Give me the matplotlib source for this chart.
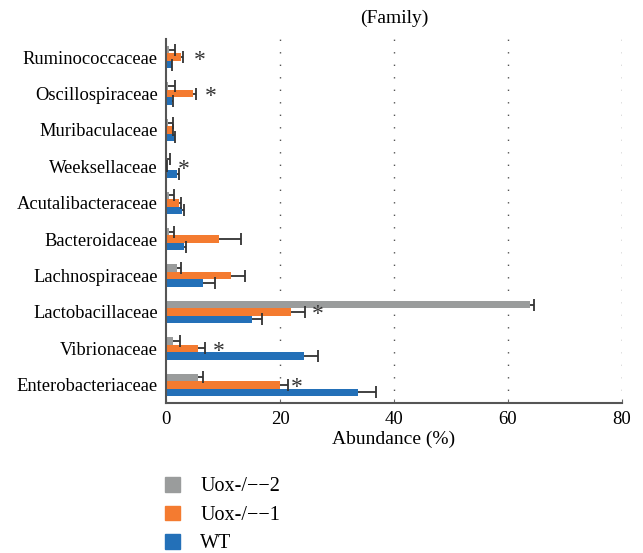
import matplotlib
matplotlib.use("Agg")
import matplotlib.pyplot as plt
from matplotlib.patches import Patch
import numpy as np

plt.rcParams["font.family"] = ["Liberation Serif", "DejaVu Serif"]

families = ["Ruminococcaceae", "Oscillospiraceae", "Muribaculaceae", "Weeksellaceae",
            "Acutalibacteraceae", "Bacteroidaceae", "Lachnospiraceae", "Lactobacillaceae",
            "Vibrionaceae", "Enterobacteriaceae"]

uox2 = [0.5, 0.4, 0.4, 0.2, 0.5, 0.5, 1.9, 63.8, 1.2, 5.6]
uox2_err = [1.0, 1.1, 0.8, 0.5, 0.9, 0.9, 0.8, 0.7, 1.2, 0.9]
uox1 = [2.6, 4.7, 1.2, 0.1, 2.2, 9.3, 11.4, 22.0, 5.6, 20.0]
uox1_err = [0.4, 0.5, 0.1, 0.0, 0.5, 3.8, 2.4, 2.4, 1.3, 1.4]
wt = [1.0, 1.0, 1.5, 2.0, 2.8, 3.1, 6.5, 15.1, 24.2, 33.6]
wt_err = [0.1, 0.2, 0.1, 0.2, 0.3, 0.4, 2.1, 1.7, 2.4, 3.2]

# significance marks: x value where the asterisk sits
stars = {"Ruminococcaceae": 6.0, "Oscillospiraceae": 7.8, "Weeksellaceae": 3.2,
         "Lactobacillaceae": 26.6, "Vibrionaceae": 9.3, "Enterobacteriaceae": 23.0}

c_gray = "#9a9c9c"
c_orange = "#f47b30"
c_blue = "#2370b8"

fig = plt.figure(figsize=(6.43, 5.53), dpi=100)
ax = fig.add_axes([166 / 643, 1 - 403 / 553, (622 - 166) / 643, (403 - 39) / 553])

y = np.arange(len(families))
h = 0.205
for off, vals, errs, col in [(-h, uox2, uox2_err, c_gray),
                             (0, uox1, uox1_err, c_orange),
                             (h, wt, wt_err, c_blue)]:
    vals = np.array(vals)
    tops = vals + np.array(errs)
    ax.barh(y + off, vals, h, color=col, zorder=2)
    ax.hlines(y + off, vals, tops, color="#333333", linewidth=1.3, zorder=3)
    ax.plot(tops, y + off, linestyle="none", marker="|", markersize=9,
            markeredgewidth=1.3, color="#333333", zorder=3)

for name, xv in stars.items():
    i = families.index(name)
    ax.text(xv, i + 0.08, "*", fontsize=17, ha="center", va="center", color="#333333")

ax.set_ylim(len(families) - 0.5, -0.5)
ax.set_xlim(0, 80)
ax.set_yticks(y)
ax.set_yticklabels(families, fontsize=13.3)
ax.set_xticks([0, 20, 40, 60, 80])
ax.tick_params(axis="x", direction="in", length=3, labelsize=13.5, pad=6, color="#666666")
ax.tick_params(axis="y", length=0, pad=6)
for xv in [20, 40, 60, 80]:
    ax.axvline(xv, color="#555555", linestyle=(0, (1, 8)), linewidth=1, zorder=0)
for s in ["top", "right"]:
    ax.spines[s].set_visible(False)
for s in ["left", "bottom"]:
    ax.spines[s].set_color("#555555")
    ax.spines[s].set_linewidth(1.5)

ax.set_xlabel("Abundance (%)", fontsize=14, labelpad=2)
fig.text(394 / 643, 1 - 18 / 553, "(Family)", ha="center", va="center", fontsize=14)

handles = [Patch(color=c_gray, label="Uox-/−−2"),
           Patch(color=c_orange, label="Uox-/−−1"),
           Patch(color=c_blue, label="WT")]
fig.legend(handles=handles, loc="upper left", bbox_to_anchor=(157 / 643, 1 - 469 / 553),
           frameon=False, fontsize=14.5, handlelength=0.75, handleheight=0.75,
           labelspacing=0.45, handletextpad=1.0, borderaxespad=0)

fig.savefig("out.png", dpi=100)
